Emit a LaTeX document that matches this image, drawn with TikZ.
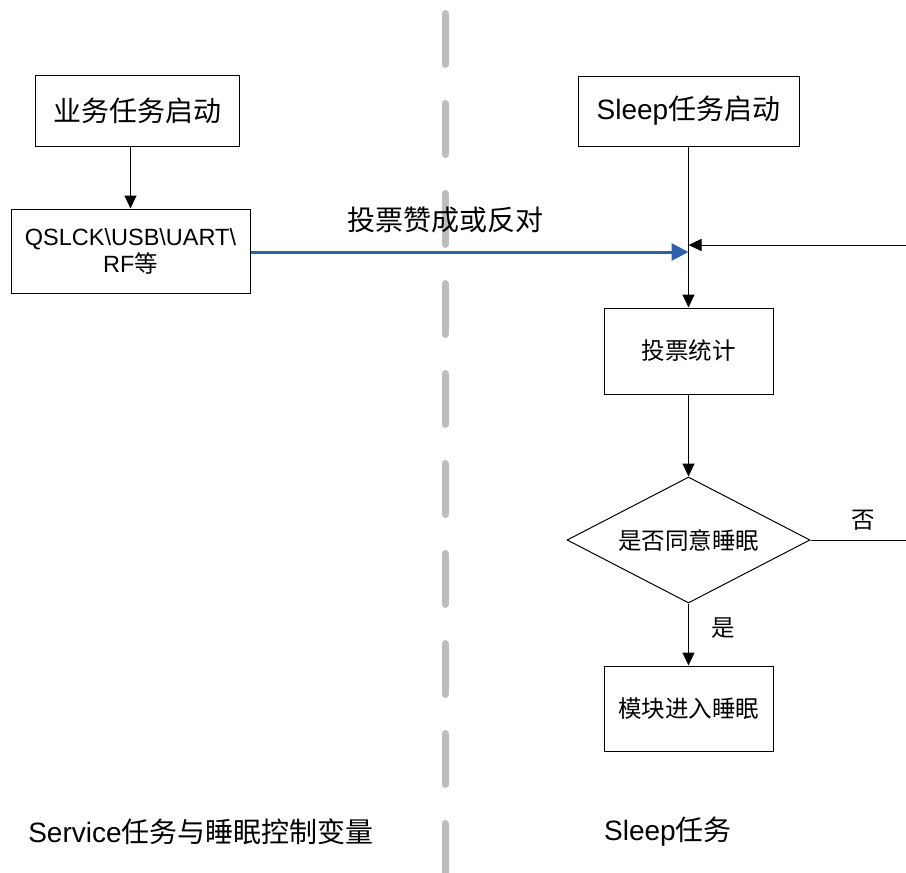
\documentclass[tikz,border=0pt]{standalone}
\usepackage{fontspec}
\setmainfont{Liberation Sans}
\newfontfamily\cjk{Noto Sans CJK SC}
\usetikzlibrary{arrows.meta}
\usetikzlibrary{shapes.geometric}

\definecolor{votec}{RGB}{46,95,170}
\definecolor{divgray}{RGB}{189,189,189}

\begin{document}
\begin{tikzpicture}[x=1pt,y=-1pt,
  box/.style={draw=black,line width=1pt,inner sep=0pt,align=center},
  flow/.style={draw=black,line width=1pt,-{Triangle[length=13pt,width=12pt]}},
  vote/.style={draw=votec,line width=3pt,-{Triangle[length=17pt,width=17pt]}},
  divider/.style={draw=divgray,line width=7pt,line cap=round,dash pattern=on 51pt off 39pt},
  bigtxt/.style={font=\fontsize{28}{33}\selectfont},
  midtxt/.style={font=\fontsize{23.5}{27}\selectfont}]
\useasboundingbox[fill=white] (0,0) rectangle (906,873);

% dashed border between the two tasks
\draw[divider] (445,13.5) -- (445,900);

% left side
\node[box,bigtxt,minimum width=204pt,minimum height=71pt] (svcstart) at (137,110.5) {\cjk 业务任务启动};
\node[box,midtxt,minimum width=239pt,minimum height=84pt] (iface) at (130.5,251) {QSLCK\textbackslash USB\textbackslash UART\textbackslash\\RF{\cjk 等}};
\draw[flow] (iface.north |- svcstart.south) -- (iface.north);

% right side
\node[box,bigtxt,minimum width=221pt,minimum height=70pt] (slpstart) at (688.5,111) {Sleep{\cjk 任务启动}};
\node[box,midtxt,minimum width=169pt,minimum height=86pt] (count) at (688.5,351) {\cjk 投票统计};
\node[draw=black,line width=1pt,diamond,aspect=1.93,inner sep=0pt,minimum width=243pt,minimum height=126pt,midtxt] (agree) at (688.5,540) {\cjk 是否同意睡眠};
\node[box,midtxt,minimum width=169pt,minimum height=85pt] (sleep) at (688.5,708.5) {\cjk 模块进入睡眠};

\coordinate (vote) at (688.5,252);
\coordinate (back) at (688.5,245);
\coordinate (loopR) at (915,245);

\draw[flow] (slpstart) -- (count);
\draw[vote] (iface.east |- vote) -- (vote);
\node[bigtxt] (votelbl) at (445,220) {\cjk 投票赞成或反对};
\draw[flow] (count) -- (agree);
\draw[flow] (agree) -- (sleep);
\draw[flow] (agree.east) -- (agree.east -| loopR) -- (loopR) -- (back);
\node[midtxt] (nolbl) at (863,520) {\cjk 否};
\node[midtxt] (yeslbl) at (723,628) {\cjk 是};

% task titles
\node[bigtxt] (lefttitle) at (201,832) {Service{\cjk 任务与睡眠控制变量}};
\node[bigtxt] (righttitle) at (668,832) {Sleep{\cjk 任务}};

\end{tikzpicture}
\end{document}
